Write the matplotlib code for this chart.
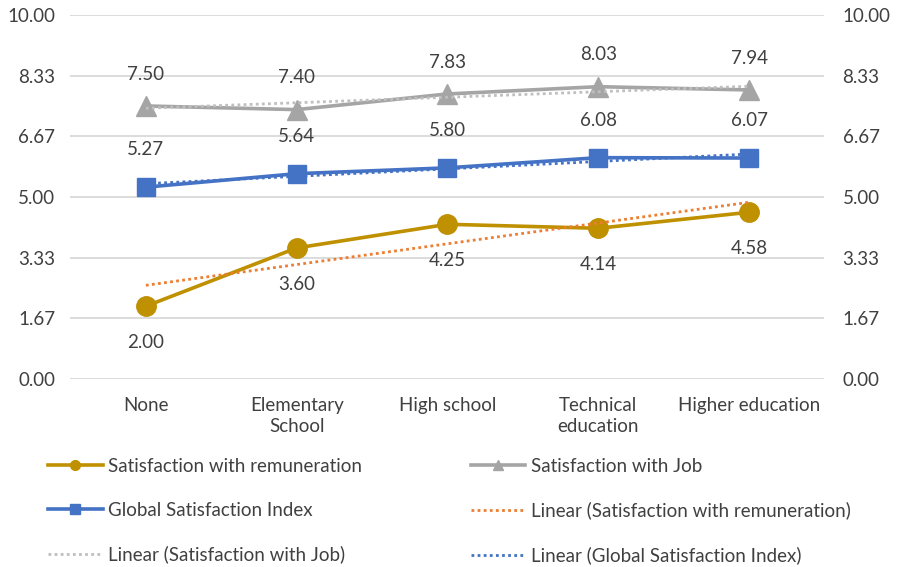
import numpy as np
import matplotlib
matplotlib.use("Agg")
import matplotlib.pyplot as plt
from matplotlib.lines import Line2D

plt.rcParams['font.family'] = ['Lato', 'DejaVu Sans']

categories = ["None", "Elementary\nSchool", "High school", "Technical\neducation", "Higher education"]
remuneration = [2.00, 3.60, 4.25, 4.14, 4.58]
job = [7.50, 7.40, 7.83, 8.03, 7.94]
global_index = [5.27, 5.64, 5.80, 6.08, 6.07]
ticks = [0.00, 1.67, 3.33, 5.00, 6.67, 8.33, 10.00]

GOLD = "#BF9000"
GRAY = "#A5A5A5"
BLUE = "#4472C4"
ORANGE = "#ED7D31"
TEXT = "#404040"
FS = 13.5

fig = plt.figure(figsize=(8.98, 5.67), dpi=100)
ax = fig.add_axes([0.0785, 0.3316, 0.8396, 0.642])
x = np.arange(len(categories))

# trend lines (least-squares fit over category index)
def trend(vals):
    k, b = np.polyfit(x, vals, 1)
    return k * x + b

DOT = (0, (1, 1.2))
ax.plot(x, trend(remuneration), ls=DOT, color=ORANGE, lw=2.0, zorder=4)
ax.plot(x, trend(job), ls=DOT, color="#BFBFBF", lw=2.0, zorder=4)
ax.plot(x, trend(global_index), ls=DOT, color=BLUE, lw=2.0, zorder=4)

ax.plot(x, remuneration, color=GOLD, lw=2.6, marker="o", ms=14, zorder=3)
ax.plot(x, job, color=GRAY, lw=2.6, marker="^", ms=14, zorder=3)
ax.plot(x, global_index, color=BLUE, lw=2.6, marker="s", ms=13, zorder=3)

for xi, v in zip(x, job):
    ax.annotate(f"{v:.2f}", (xi, v), xytext=(0, 23), textcoords="offset points",
                ha="center", va="center", fontsize=FS, color=TEXT)
for xi, v in zip(x, global_index):
    ax.annotate(f"{v:.2f}", (xi, v), xytext=(0, 27), textcoords="offset points",
                ha="center", va="center", fontsize=FS, color=TEXT)
for xi, v in zip(x, remuneration):
    ax.annotate(f"{v:.2f}", (xi, v), xytext=(0, -26), textcoords="offset points",
                ha="center", va="center", fontsize=FS, color=TEXT)

ax.set_xlim(-0.5, len(categories) - 0.5)
ax.set_ylim(0, 10)
ax.set_yticks(ticks)
ax.set_yticklabels([f"{t:.2f}" for t in ticks])
ax.set_xticks(x)
ax.set_xticklabels(categories, fontsize=FS, color=TEXT, linespacing=1.3)
ax.tick_params(axis="y", labelsize=FS, colors=TEXT, length=0, pad=11)
ax.tick_params(axis="x", length=0, pad=13)
ax.grid(axis="y", color="#D9D9D9", lw=1.3)
ax.set_axisbelow(True)
for s in ax.spines.values():
    s.set_visible(False)

ax2 = ax.twinx()
ax2.set_ylim(0, 10)
ax2.set_yticks(ticks)
ax2.set_yticklabels([f"{t:.2f}" for t in ticks])
ax2.tick_params(axis="y", labelsize=FS, colors=TEXT, length=0, pad=13)
for s in ax2.spines.values():
    s.set_visible(False)

handles = [
    Line2D([], [], color=GOLD, lw=2.6, marker="o", ms=7),
    Line2D([], [], color=BLUE, lw=2.6, marker="s", ms=7),
    Line2D([], [], color="#BFBFBF", lw=2.0, ls=DOT),
    Line2D([], [], color=GRAY, lw=2.6, marker="^", ms=7),
    Line2D([], [], color=ORANGE, lw=2.0, ls=DOT),
    Line2D([], [], color=BLUE, lw=2.0, ls=DOT),
]
labels = [
    "Satisfaction with remuneration",
    "Global Satisfaction Index",
    "Linear (Satisfaction with Job)",
    "Satisfaction with Job",
    "Linear (Satisfaction with remuneration)",
    "Linear (Global Satisfaction Index)",
]
fig.legend(handles, labels, ncol=2, loc="upper left", bbox_to_anchor=(0.035, 0.222),
           frameon=False, fontsize=FS, labelcolor=TEXT, handlelength=2.9,
           handletextpad=0.3, columnspacing=5.8, labelspacing=1.42)

fig.savefig("out.png", dpi=100)
